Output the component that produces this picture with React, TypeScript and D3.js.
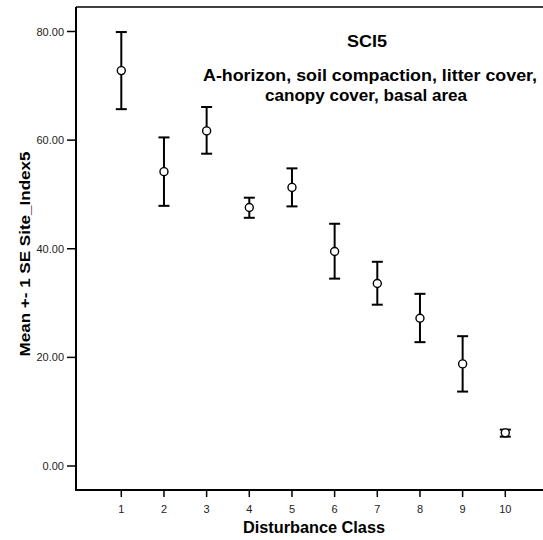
import React from "react";
import * as d3 from "d3";

const classes = [1, 2, 3, 4, 5, 6, 7, 8, 9, 10];
const means = [72.8, 54.2, 61.7, 47.6, 51.3, 39.5, 33.6, 27.2, 18.8, 6.1];
const upper = [79.9, 60.5, 66.1, 49.4, 54.8, 44.6, 37.6, 31.7, 23.9, 6.7];
const lower = [65.7, 47.9, 57.5, 45.7, 47.8, 34.5, 29.7, 22.8, 13.7, 5.4];
const yTicks = [0, 20, 40, 60, 80];
const chartTitle = "SCI5";
const titleLines = ["A-horizon, soil compaction, litter cover,", "canopy cover, basal area"];

export default function App() {
  const W = 543, H = 540;
  const left = 76, top = 7, bottom = 490;
  const x = d3.scaleLinear().domain([1, 10]).range([121.3, 505.3]);
  const y = d3.scaleLinear().domain([0, 80]).range([466, 31.5]);
  const font = "'Liberation Sans', Arial, sans-serif";
  const lineLayout = [
    { cx: 370, by: 81, len: 334 },
    { cx: 366, by: 101, len: 202 },
  ];
  return (
    <svg width={W} height={H} style={{ position: "absolute", left: 0, top: 0, background: "#fff" }}>
      <rect x={0} y={0} width={W} height={H} fill="#fff" />
      <line x1={left} y1={top} x2={W + 2} y2={top} stroke="#000" strokeWidth={1.5} />
      <line x1={left} y1={top} x2={left} y2={bottom} stroke="#000" strokeWidth={2} />
      <line x1={left - 1} y1={bottom} x2={W + 2} y2={bottom} stroke="#000" strokeWidth={2} />
      {yTicks.map((t) => (
        <g key={t}>
          <line x1={67} x2={left} y1={y(t)} y2={y(t)} stroke="#000" strokeWidth={1.5} />
          <text x={64} y={y(t) + 4} textAnchor="end" fontFamily={font} fontSize={11} fill="#222">
            {d3.format(".2f")(t)}
          </text>
        </g>
      ))}
      {classes.map((c) => (
        <g key={c}>
          <line x1={x(c)} x2={x(c)} y1={bottom} y2={bottom + 7} stroke="#000" strokeWidth={1.5} />
          <text x={x(c)} y={513} textAnchor="middle" fontFamily={font} fontSize={11} fill="#222">
            {c}
          </text>
        </g>
      ))}
      {classes.map((c, i) => (
        <g key={"e" + c} stroke="#000" fill="none">
          <line x1={x(c)} x2={x(c)} y1={y(upper[i])} y2={y(lower[i])} strokeWidth={2} />
          <line x1={x(c) - 5.5} x2={x(c) + 5.5} y1={y(upper[i])} y2={y(upper[i])} strokeWidth={2} />
          <line x1={x(c) - 5.5} x2={x(c) + 5.5} y1={y(lower[i])} y2={y(lower[i])} strokeWidth={2} />
          <circle cx={x(c)} cy={y(means[i])} r={4} strokeWidth={1.4} fill="#fff" />
        </g>
      ))}
      <text x={367} y={47} textAnchor="middle" fontFamily={font} fontSize={16} fontWeight="bold"
        textLength={40} lengthAdjust="spacingAndGlyphs">{chartTitle}</text>
      {titleLines.map((l, i) => (
        <text key={i} x={lineLayout[i].cx} y={lineLayout[i].by} textAnchor="middle" fontFamily={font}
          fontSize={16} fontWeight="bold" textLength={lineLayout[i].len} lengthAdjust="spacingAndGlyphs">{l}</text>
      ))}
      <text x={314} y={533} textAnchor="middle" fontFamily={font} fontSize={16} fontWeight="bold"
        textLength={142} lengthAdjust="spacingAndGlyphs">Disturbance Class</text>
      <text transform={`translate(30,254) rotate(-90)`} textAnchor="middle" fontFamily={font} fontSize={14}
        fontWeight="bold" textLength={205} lengthAdjust="spacingAndGlyphs">
        Mean +- 1 SE Site_Index5
      </text>
    </svg>
  );
}
